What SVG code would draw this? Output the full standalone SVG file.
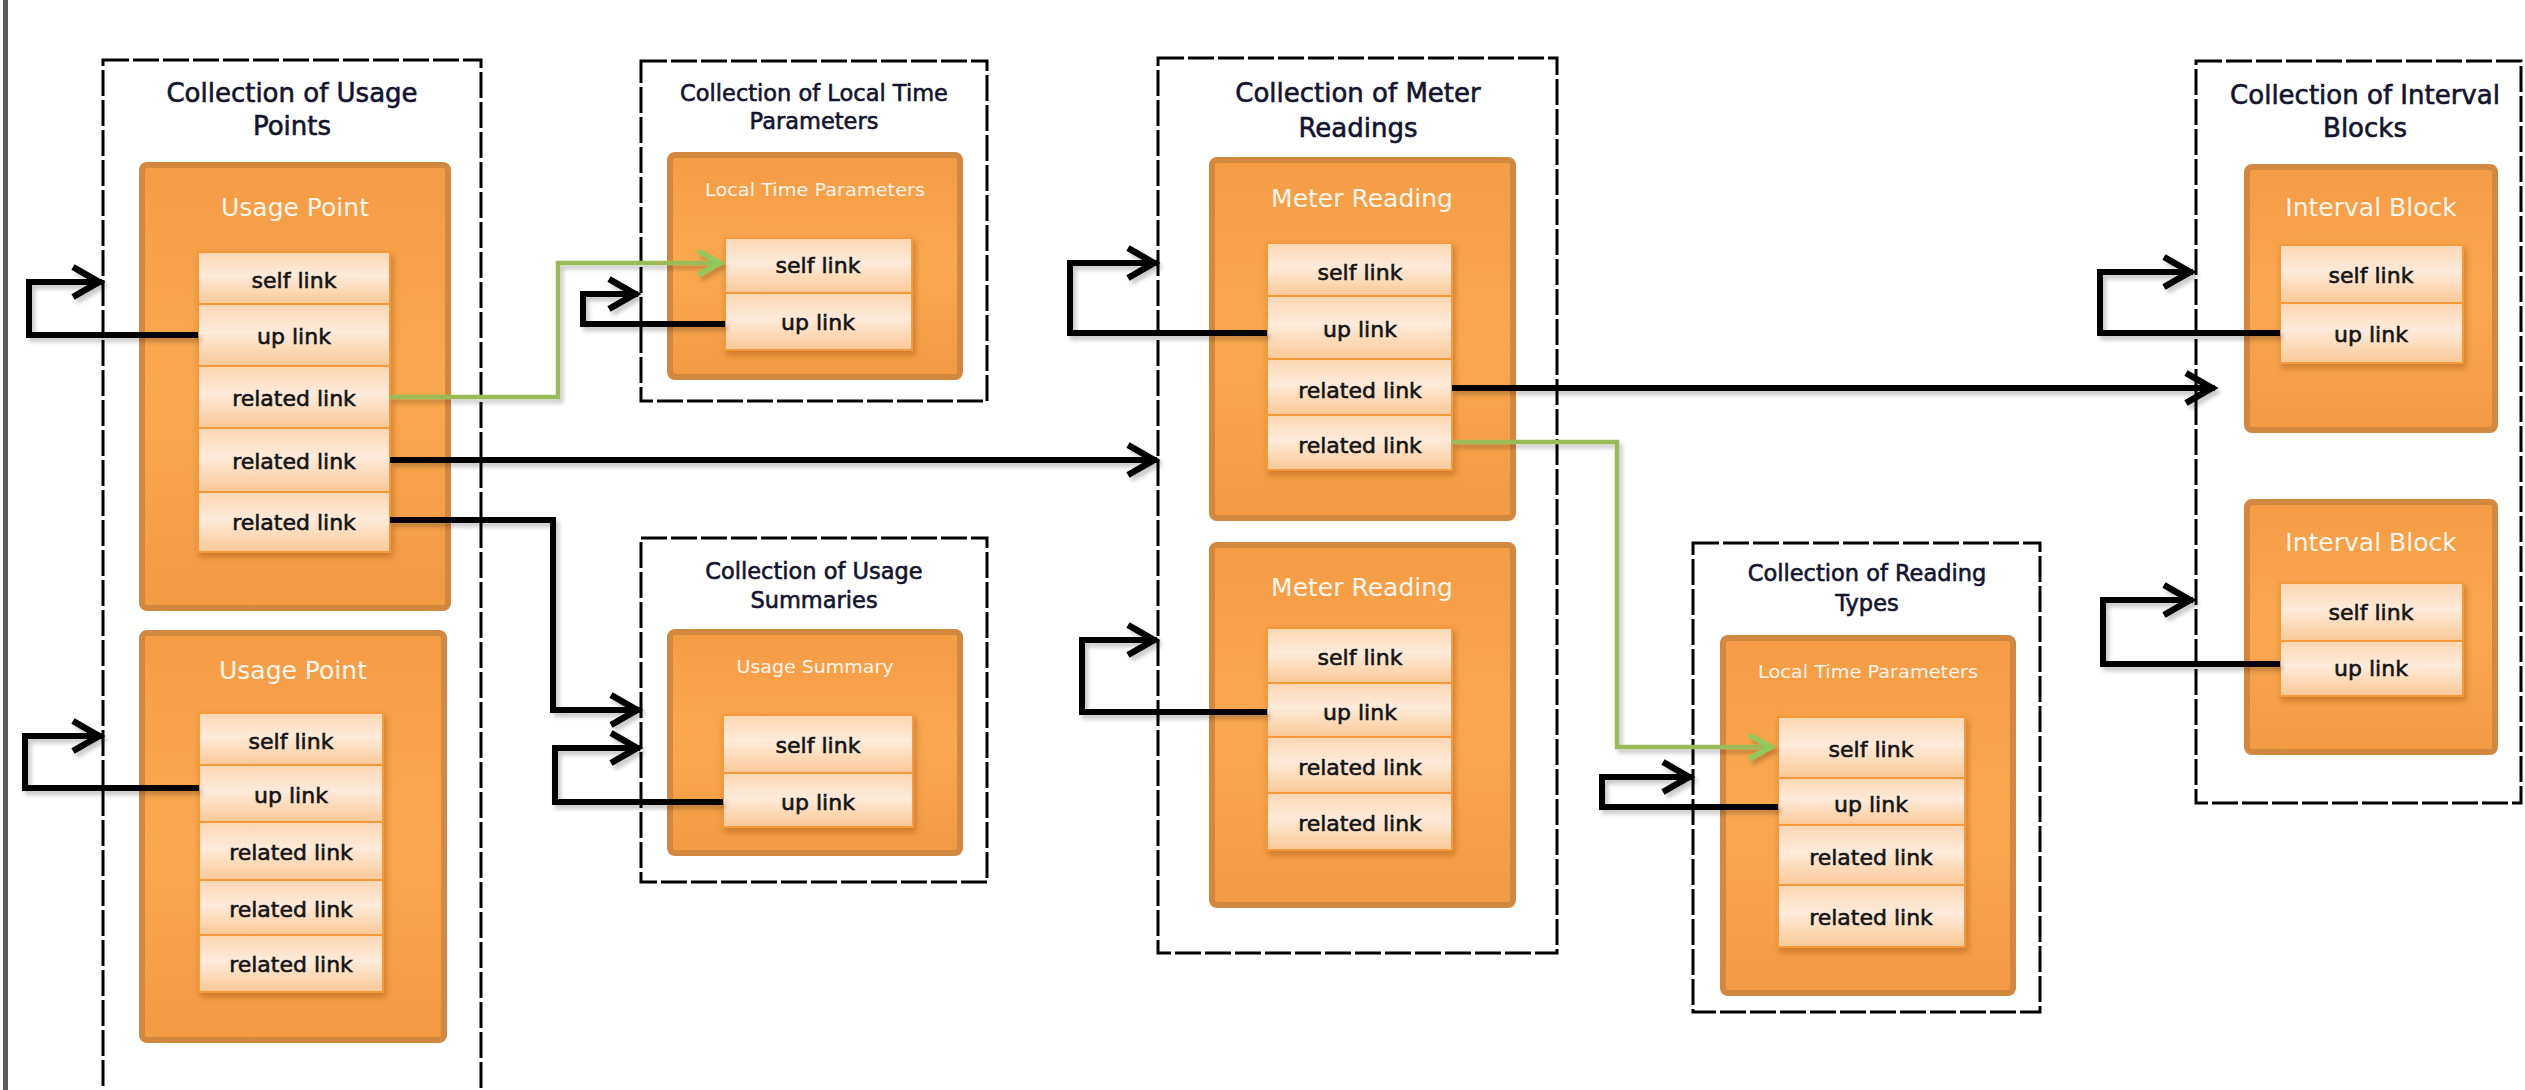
<svg xmlns="http://www.w3.org/2000/svg" width="2525" height="1090" viewBox="0 0 2525 1090">
<style>
.coll{fill:#ffffff;stroke:#000;stroke-width:3;stroke-dasharray:26 4}
.ct{font-family:"DejaVu Sans",sans-serif;font-size:26px;fill:#14142e;stroke:#14142e;stroke-width:0.6;text-anchor:middle;dominant-baseline:central}
.cts{font-family:"DejaVu Sans",sans-serif;font-size:22.5px;fill:#14142e;stroke:#14142e;stroke-width:0.6;text-anchor:middle;dominant-baseline:central}
.box{fill:url(#boxG);stroke:#D2883F;stroke-width:6}
.nt{font-family:"DejaVu Sans",sans-serif;font-size:25px;fill:#FFF6EA;text-anchor:middle;dominant-baseline:central}
.nts{font-family:"DejaVu Sans",sans-serif;font-size:17px;fill:#FFF6EA;text-anchor:middle;dominant-baseline:central}
.row{fill:url(#rowG);stroke:#F39A3E;stroke-width:2}
.rt{font-family:"DejaVu Sans",sans-serif;font-size:22px;fill:#141414;stroke:#141414;stroke-width:0.6;text-anchor:middle;dominant-baseline:central}
.blk{fill:none;stroke:#000;stroke-width:6;stroke-linejoin:miter;marker-end:url(#ah)}
.grn{fill:none;stroke:#9BBB59;stroke-width:4.5;marker-end:url(#ahg)}
</style>
<defs>
<linearGradient id="boxG" x1="0" y1="0" x2="0" y2="1">
<stop offset="0" stop-color="#F49C46"/>
<stop offset="0.5" stop-color="#FAA84F"/>
<stop offset="1" stop-color="#F29A44"/>
</linearGradient>
<linearGradient id="rowG" x1="0" y1="0" x2="0" y2="1">
<stop offset="0" stop-color="#FBD6B2"/>
<stop offset="0.45" stop-color="#FEEBDA"/>
<stop offset="1" stop-color="#F9C896"/>
</linearGradient>
<filter id="rsh" x="-10%" y="-10%" width="130%" height="130%">
<feDropShadow dx="2" dy="4" stdDeviation="3" flood-color="#A85A16" flood-opacity="0.55"/>
</filter>
<filter id="lsh" x="-5%" y="-5%" width="110%" height="110%">
<feDropShadow dx="3" dy="4" stdDeviation="2" flood-color="#000" flood-opacity="0.22"/>
</filter>
<marker id="ah" markerUnits="userSpaceOnUse" viewBox="0 0 40 36" markerWidth="40" markerHeight="36" refX="34" refY="18" orient="auto" overflow="visible">
<path d="M5,3 L31,18 L5,33" fill="none" stroke="#000" stroke-width="6.5"/>
</marker>
<marker id="ahg" markerUnits="userSpaceOnUse" viewBox="0 0 40 36" markerWidth="40" markerHeight="36" refX="32" refY="18" orient="auto" overflow="visible">
<path d="M8,6 L30,18 L8,30" fill="none" stroke="#8FCB5B" stroke-width="5"/>
</marker>
</defs>
<rect x="0" y="0" width="2525" height="1090" fill="#ffffff"/>
<rect x="3" y="0" width="5" height="1090" fill="#5a5a5a"/>

<g id="collection-usage-points">
<rect class="coll" x="103" y="60" width="378" height="1050"/>
<text class="ct" x="292" y="93">Collection of Usage</text>
<text class="ct" x="292" y="126">Points</text>
</g>
<g id="collection-local-time">
<rect class="coll" x="641" y="61" width="346" height="340"/>
<text class="cts" x="814" y="93">Collection of Local Time</text>
<text class="cts" x="814" y="121">Parameters</text>
</g>
<g id="collection-usage-summaries">
<rect class="coll" x="641" y="538" width="346" height="344"/>
<text class="cts" x="814" y="571">Collection of Usage</text>
<text class="cts" x="814" y="600">Summaries</text>
</g>
<g id="collection-meter-readings">
<rect class="coll" x="1158" y="58" width="399" height="895"/>
<text class="ct" x="1358" y="93">Collection of Meter</text>
<text class="ct" x="1358" y="128">Readings</text>
</g>
<g id="collection-reading-types">
<rect class="coll" x="1693" y="543" width="347" height="469"/>
<text class="cts" x="1867" y="573">Collection of Reading</text>
<text class="cts" x="1867" y="603">Types</text>
</g>
<g id="collection-interval-blocks">
<rect class="coll" x="2196" y="61" width="325" height="742"/>
<text class="ct" x="2365" y="95">Collection of Interval</text>
<text class="ct" x="2365" y="128">Blocks</text>
</g>

<g id="usage-point-1">
<rect class="box" x="142" y="165" width="306" height="443" rx="5"/>
<text class="nt" x="295" y="207">Usage Point</text>
<g filter="url(#rsh)">
<rect class="row" x="198" y="252" width="192" height="52"/>
<rect class="row" x="198" y="304" width="192" height="62"/>
<rect class="row" x="198" y="366" width="192" height="62"/>
<rect class="row" x="198" y="428" width="192" height="64"/>
<rect class="row" x="198" y="492" width="192" height="60"/>
</g>
<text class="rt" x="294" y="280">self link</text>
<text class="rt" x="294" y="336">up link</text>
<text class="rt" x="294" y="398">related link</text>
<text class="rt" x="294" y="461">related link</text>
<text class="rt" x="294" y="522">related link</text>
</g>

<g id="usage-point-2">
<rect class="box" x="142" y="633" width="302" height="407" rx="5"/>
<text class="nt" x="293" y="670">Usage Point</text>
<g filter="url(#rsh)">
<rect class="row" x="199" y="713" width="184" height="52"/>
<rect class="row" x="199" y="765" width="184" height="57"/>
<rect class="row" x="199" y="822" width="184" height="58"/>
<rect class="row" x="199" y="880" width="184" height="55"/>
<rect class="row" x="199" y="935" width="184" height="57"/>
</g>
<text class="rt" x="291" y="741">self link</text>
<text class="rt" x="291" y="795">up link</text>
<text class="rt" x="291" y="852">related link</text>
<text class="rt" x="291" y="909">related link</text>
<text class="rt" x="291" y="964">related link</text>
</g>

<g id="local-time-parameters">
<rect class="box" x="670" y="155" width="290" height="222" rx="5"/>
<text class="nts" x="815" y="190" textLength="220" lengthAdjust="spacingAndGlyphs">Local Time Parameters</text>
<g filter="url(#rsh)">
<rect class="row" x="725" y="238" width="187" height="55"/>
<rect class="row" x="725" y="293" width="187" height="57"/>
</g>
<text class="rt" x="818" y="265">self link</text>
<text class="rt" x="818" y="322">up link</text>
</g>

<g id="usage-summary">
<rect class="box" x="670" y="632" width="290" height="221" rx="5"/>
<text class="nts" x="815" y="667" textLength="157" lengthAdjust="spacingAndGlyphs">Usage Summary</text>
<g filter="url(#rsh)">
<rect class="row" x="723" y="715" width="190" height="58"/>
<rect class="row" x="723" y="773" width="190" height="54"/>
</g>
<text class="rt" x="818" y="745">self link</text>
<text class="rt" x="818" y="802">up link</text>
</g>

<g id="meter-reading-1">
<rect class="box" x="1212" y="160" width="301" height="358" rx="5"/>
<text class="nt" x="1362" y="198">Meter Reading</text>
<g filter="url(#rsh)">
<rect class="row" x="1267" y="243" width="185" height="53"/>
<rect class="row" x="1267" y="296" width="185" height="63"/>
<rect class="row" x="1267" y="359" width="185" height="56"/>
<rect class="row" x="1267" y="415" width="185" height="55"/>
</g>
<text class="rt" x="1360" y="272">self link</text>
<text class="rt" x="1360" y="329">up link</text>
<text class="rt" x="1360" y="390">related link</text>
<text class="rt" x="1360" y="445">related link</text>
</g>

<g id="meter-reading-2">
<rect class="box" x="1212" y="545" width="301" height="360" rx="5"/>
<text class="nt" x="1362" y="587">Meter Reading</text>
<g filter="url(#rsh)">
<rect class="row" x="1267" y="628" width="185" height="55"/>
<rect class="row" x="1267" y="683" width="185" height="54"/>
<rect class="row" x="1267" y="737" width="185" height="56"/>
<rect class="row" x="1267" y="793" width="185" height="57"/>
</g>
<text class="rt" x="1360" y="657">self link</text>
<text class="rt" x="1360" y="712">up link</text>
<text class="rt" x="1360" y="767">related link</text>
<text class="rt" x="1360" y="823">related link</text>
</g>

<g id="reading-type">
<rect class="box" x="1723" y="638" width="290" height="355" rx="5"/>
<text class="nts" x="1868" y="672" textLength="220" lengthAdjust="spacingAndGlyphs">Local Time Parameters</text>
<g filter="url(#rsh)">
<rect class="row" x="1778" y="717" width="187" height="61"/>
<rect class="row" x="1778" y="778" width="187" height="47"/>
<rect class="row" x="1778" y="825" width="187" height="60"/>
<rect class="row" x="1778" y="885" width="187" height="62"/>
</g>
<text class="rt" x="1871" y="749">self link</text>
<text class="rt" x="1871" y="804">up link</text>
<text class="rt" x="1871" y="857">related link</text>
<text class="rt" x="1871" y="917">related link</text>
</g>

<g id="interval-block-1">
<rect class="box" x="2247" y="167" width="248" height="263" rx="5"/>
<text class="nt" x="2371" y="207">Interval Block</text>
<g filter="url(#rsh)">
<rect class="row" x="2280" y="245" width="183" height="58"/>
<rect class="row" x="2280" y="303" width="183" height="60"/>
</g>
<text class="rt" x="2371" y="275">self link</text>
<text class="rt" x="2371" y="334">up link</text>
</g>

<g id="interval-block-2">
<rect class="box" x="2247" y="502" width="248" height="250" rx="5"/>
<text class="nt" x="2371" y="542">Interval Block</text>
<g filter="url(#rsh)">
<rect class="row" x="2280" y="583" width="183" height="58"/>
<rect class="row" x="2280" y="641" width="183" height="55"/>
</g>
<text class="rt" x="2371" y="612">self link</text>
<text class="rt" x="2371" y="668">up link</text>
</g>

<g id="connectors" filter="url(#lsh)">
<path class="blk" d="M198,335 H29 V282 H102"/>
<path class="blk" d="M199,788 H25 V736 H102"/>
<path class="blk" d="M725,324 H583 V294 H638"/>
<path class="blk" d="M723,802 H555 V748 H640"/>
<path class="blk" d="M390,520 H553 V710 H640"/>
<path class="blk" d="M390,460 H1157"/>
<path class="blk" d="M1267,333 H1070 V263 H1157"/>
<path class="blk" d="M1267,712 H1082 V640 H1157"/>
<path class="blk" d="M1452,388 H2215"/>
<path class="blk" d="M2280,333 H2100 V272 H2193"/>
<path class="blk" d="M2280,664 H2103 V600 H2193"/>
<path class="blk" d="M1778,807 H1602 V777 H1692"/>
<path class="grn" d="M390,397 H558 V263 H722"/>
<path class="grn" d="M1452,442 H1617 V747 H1773"/>
</g>
</svg>
